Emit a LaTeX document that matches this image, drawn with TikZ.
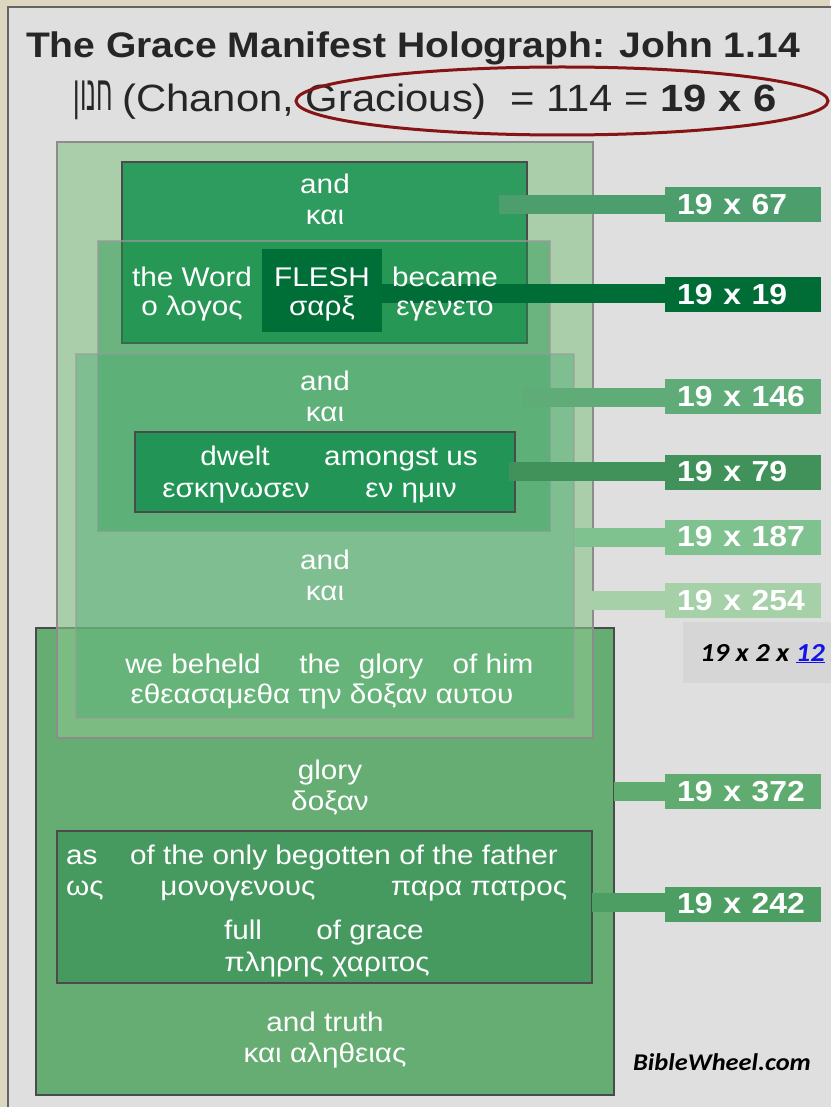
\documentclass[tikz,border=0pt]{standalone}
\usepackage{fontspec}
\usetikzlibrary{shapes.geometric}
\setmainfont{Liberation Sans}
\newfontfamily\hebfont[Script=Hebrew]{Liberation Sans}
\newfontfamily\calfont{Carlito}
\TeXXeTstate=1
\definecolor{beige}{RGB}{221,214,193}
\definecolor{panel}{RGB}{223,223,223}
\definecolor{panelline}{RGB}{100,100,100}
\definecolor{ellred}{RGB}{135,20,20}
\definecolor{cA}{RGB}{139,197,139}
\definecolor{cB}{RGB}{46,155,95}
\definecolor{cC}{RGB}{31,147,75}
\definecolor{cD}{RGB}{80,173,116}
\definecolor{cE}{RGB}{33,148,86}
\definecolor{cF}{RGB}{101,173,114}
\definecolor{cG}{RGB}{70,154,95}
\definecolor{cFl}{RGB}{0,110,55}
\definecolor{bdr}{RGB}{75,75,75}
\definecolor{l67}{RGB}{76,158,108}
\definecolor{l19}{RGB}{0,109,54}
\definecolor{l146}{RGB}{96,172,120}
\definecolor{l79}{RGB}{64,145,90}
\definecolor{l187}{RGB}{127,194,143}
\definecolor{l254}{RGB}{166,209,168}
\definecolor{l372}{RGB}{96,172,112}
\definecolor{l242}{RGB}{77,158,98}
\definecolor{notebox}{RGB}{214,214,214}
\definecolor{linkblue}{RGB}{20,20,230}
\newcommand\sx[1]{\scalebox{1.1}[1]{#1}}
\newcommand\boxfont{\fontsize{27}{30}\selectfont}
\newcommand\lblfont{\fontsize{29}{32}\selectfont\bfseries}
\begin{document}
\begin{tikzpicture}[x=1pt,y=-1pt,
  region/.style={inner sep=0pt, outer sep=0pt, line width=1.3pt},
  txt/.style={text=white, font=\boxfont, anchor=base, inner sep=0pt},
  lbl/.style={anchor=west, text width=132pt, align=left, inner xsep=12pt, inner ysep=0pt,
     minimum height=35pt, text=white, font=\lblfont},
  bar/.style={line width=19pt}]
\useasboundingbox (0,0) rectangle (830,1107);
\fill[beige] (0,0) rectangle (830,1107);
\fill[panel] (8,7) rectangle (832,1109);
\draw[panelline, line width=1.5pt] (8,1109) -- (8,7) -- (832,7);

% title
\node[anchor=base, inner sep=0pt, font=\fontsize{35.5}{40}\selectfont\bfseries, text=black!85] (title) at (413,58) {\sx{The Grace Manifest Holograph: John 1.14}};
\node[anchor=base, inner sep=0pt, font=\fontsize{38}{42}\selectfont, text=black!85] (heb) at (93.5,111)
  {\scalebox{0.66}[1.3]{\hebfont\beginR חנון\endR}};
\node[anchor=base west, inner sep=0pt, font=\fontsize{38}{42}\selectfont, text=black!85] (sub) at (122,112)
  {\sx{(Chanon, Gracious)\ \ = 114 = \textbf{19 x 6}}};
\node[draw=ellred, line width=3pt, ellipse, minimum width=532pt, minimum height=68pt, inner sep=0pt] (ell) at (562,101) {};

% regions
\node[region, draw=bdr, fill=cF, minimum width=578pt, minimum height=467pt] (F) at (325,861.5) {};
\node[region, draw=black!45, fill=cA, fill opacity=0.62, minimum width=536pt, minimum height=596pt] (A) at (325,440) {};
\node[region, draw=bdr, fill=cB, minimum width=405pt, minimum height=181pt] (B) at (324.5,252.5) {};
\node[region, draw=black!40, draw opacity=0.7, fill=cC, fill opacity=0.45, minimum width=452pt, minimum height=290pt] (C) at (324,386) {};
\node[region, draw=black!40, draw opacity=0.5, fill=cD, fill opacity=0.47, minimum width=498pt, minimum height=364pt] (D) at (325,536) {};
\node[region, fill=cFl, minimum width=120pt, minimum height=83pt] (fl) at (322,290.5) {};
\node[region, draw=bdr, fill=cE, minimum width=380pt, minimum height=80pt] (E) at (325,472) {};
\node[region, draw=bdr, fill=cG, minimum width=535pt, minimum height=152pt] (G) at (324.5,907) {};

% labels
\node[lbl, fill=l67] (L67) at (665,204.5) {\sx{19 x 67}};
\node[lbl, fill=l19] (L19) at (665,294.5) {\sx{19 x 19}};
\node[lbl, fill=l146] (L146) at (665,396.5) {\sx{19 x 146}};
\node[lbl, fill=l79] (L79) at (665,472) {\sx{19 x 79}};
\node[lbl, fill=l187] (L187) at (665,537) {\sx{19 x 187}};
\node[lbl, fill=l254] (L254) at (665,600.5) {\sx{19 x 254}};
\node[lbl, fill=l372] (L372) at (665,791.5) {\sx{19 x 372}};
\node[lbl, fill=l242] (L242) at (665,904) {\sx{19 x 242}};

% bars
\coordinate (s67) at (499,205);
\coordinate (s19) at (378,293);
\coordinate (s146) at (522,397.5);
\coordinate (s79) at (509,471.5);
\coordinate (s187) at (574,537.5);
\coordinate (s254) at (590,600.5);
\coordinate (s372) at (614,791);
\coordinate (s242) at (592,902.5);
\draw[bar, l67] (s67) -- (s67 -| L67.west);
\draw[bar, l19] (s19) -- (s19 -| L19.west);
\draw[bar, l146] (s146) -- (s146 -| L146.west);
\draw[bar, l79] (s79) -- (s79 -| L79.west);
\draw[bar, l187] (s187) -- (s187 -| L187.west);
\draw[bar, l254] (s254) -- (s254 -| L254.west);
\draw[bar, l372] (s372) -- (s372 -| L372.west);
\draw[bar, l242] (s242) -- (s242 -| L242.west);

% box texts
\node[txt] (and1) at (325,194) {\sx{and}};
\node[txt] (kai1) at (325,225) {\sx{και}};
\node[txt] (word) at (192,286) {\sx{the Word}};
\node[txt] (flesh) at (322,286) {\sx{FLESH}};
\node[txt] (became) at (445,286) {\sx{became}};
\node[txt] (logos) at (192,315) {\sx{ο λογος}};
\node[txt] (sarx) at (322,315) {\sx{σαρξ}};
\node[txt] (egeneto) at (445,315) {\sx{εγενετο}};
\node[txt] (and2) at (325,390) {\sx{and}};
\node[txt] (kai2) at (325,421) {\sx{και}};
\node[txt] (dwelt) at (235,465) {\sx{dwelt}};
\node[txt] (amongst) at (401,465) {\sx{amongst us}};
\node[txt] (eskenosen) at (236,497) {\sx{εσκηνωσεν}};
\node[txt] (enhemin) at (411,497) {\sx{εν ημιν}};
\node[txt] (and3) at (325,569) {\sx{and}};
\node[txt] (kai3) at (325,600) {\sx{και}};
\node[txt] (beheld) at (193,673) {\sx{we beheld}};
\node[txt] (the) at (320,673) {\sx{the}};
\node[txt] (glory1) at (391,673) {\sx{glory}};
\node[txt] (ofhim) at (493,673) {\sx{of him}};
\node[txt] (etheas) at (322,703) {\sx{εθεασαμεθα την δοξαν αυτου}};
\node[txt] (glory2) at (330,779) {\sx{glory}};
\node[txt] (doxan) at (330,810) {\sx{δοξαν}};
\node[txt, anchor=base west] (as) at (66,864) {\sx{as}};
\node[txt, anchor=base east] (ofthe) at (558,864) {\sx{of the only begotten of the father}};
\node[txt, anchor=base west] (hos) at (66,895) {\sx{ως}};
\node[txt] (monog) at (238,895) {\sx{μονογενους}};
\node[txt] (para) at (479,895) {\sx{παρα πατρος}};
\node[txt] (full) at (243,939) {\sx{full}};
\node[txt] (ofgrace) at (370,939) {\sx{of grace}};
\node[txt] (pleres) at (327,971) {\sx{πληρης χαριτος}};
\node[txt] (truth) at (325,1031) {\sx{and truth}};
\node[txt] (aletheias) at (325,1062) {\sx{και αληθειας}};

% notes
\node[region, fill=notebox, minimum width=150pt, minimum height=61pt, anchor=north west] (nb) at (683,622) {};
\node[anchor=base west, inner sep=0pt, font=\calfont\fontsize{26}{30}\selectfont\bfseries\itshape] (note) at (700,661)
  {\sx{19 x 2 x \textcolor{linkblue}{\underline{12}}}};
\node[anchor=base, inner sep=0pt, font=\calfont\fontsize{24}{28}\selectfont\bfseries\itshape] (bw) at (722,1070) {\sx{BibleWheel.com}};
\end{tikzpicture}
\end{document}
